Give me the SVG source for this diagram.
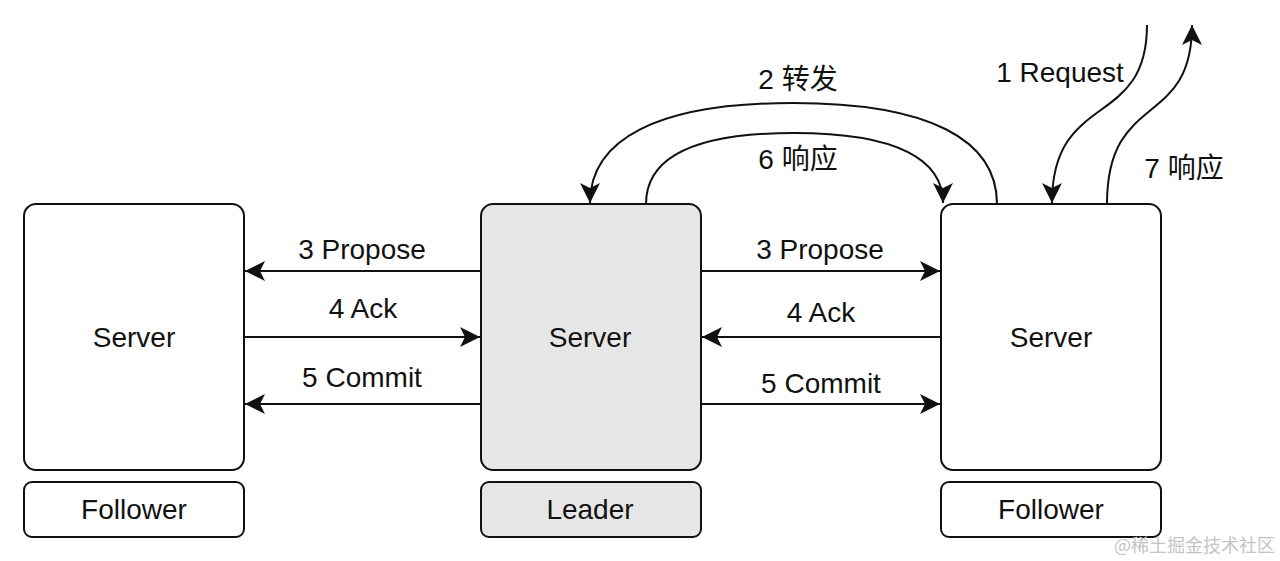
<svg xmlns="http://www.w3.org/2000/svg" width="1280" height="561" viewBox="0 0 1280 561">
<style>
.box{fill:#ffffff;stroke:#111;stroke-width:2}
.lead{fill:#e6e6e6}
.t{font-family:"Liberation Sans","Noto Sans CJK SC",Arial,sans-serif;font-size:28px;fill:#111;text-anchor:middle}
.e{fill:none;stroke:#111;stroke-width:2;marker-end:url(#ah)}
.wm{font-family:"Noto Sans CJK SC",sans-serif;font-size:18px;fill:#c4c4c4}
</style>
<defs>
<marker id="ah" viewBox="0 0 20 20" refX="20" refY="10" markerWidth="20" markerHeight="20" markerUnits="userSpaceOnUse" orient="auto">
<path d="M0,0 L20,10 L0,20 L5,10 Z" fill="#111"/>
</marker>
</defs>
<rect width="1280" height="561" fill="#ffffff"/>
<g id="server-left">
<rect class="box" x="24" y="204" width="220" height="266" rx="12"/>
<text class="t" x="134" y="347">Server</text>
</g>
<g id="follower-left">
<rect class="box" x="24" y="482" width="220" height="55" rx="8"/>
<text class="t" x="134" y="519">Follower</text>
</g>
<g id="server-leader">
<rect class="box lead" x="481" y="204" width="220" height="266" rx="12"/>
<text class="t" x="590" y="347">Server</text>
</g>
<g id="leader">
<rect class="box lead" x="481" y="482" width="220" height="55" rx="8"/>
<text class="t" x="590" y="519">Leader</text>
</g>
<g id="server-right">
<rect class="box" x="941" y="204" width="220" height="266" rx="12"/>
<text class="t" x="1051" y="347">Server</text>
</g>
<g id="follower-right">
<rect class="box" x="941" y="482" width="220" height="55" rx="8"/>
<text class="t" x="1051" y="519">Follower</text>
</g>
<g id="connectors">
<path class="e" d="M481,271 L245,271"/>
<path class="e" d="M244,337 L480,337"/>
<path class="e" d="M481,404 L245,404"/>
<path class="e" d="M701,271 L940,271"/>
<path class="e" d="M941,337 L702,337"/>
<path class="e" d="M701,404 L940,404"/>
<path class="e" d="M997,204 C997,140 930,103 793,103 C656,103 590,140 590,203"/>
<path class="e" d="M646,204 C646,160 690,133 794,133 C898,133 943,160 943,203"/>
<path class="e" d="M1147,25 C1147,130 1052,90 1052,203"/>
<path class="e" d="M1107,204 C1107,90 1192,130 1192,25"/>
<text class="t" x="362" y="259">3 Propose</text>
<text class="t" x="363" y="318">4 Ack</text>
<text class="t" x="362" y="387">5 Commit</text>
<text class="t" x="820" y="259">3 Propose</text>
<text class="t" x="821" y="322">4 Ack</text>
<text class="t" x="821" y="393">5 Commit</text>
<text class="t" x="798" y="89">2 转发</text>
<text class="t" x="798" y="169">6 响应</text>
<text class="t" x="1060" y="82">1 Request</text>
<text class="t" x="1184" y="178">7 响应</text>
</g>
<text class="wm" x="1114" y="552">@稀土掘金技术社区</text>
</svg>
